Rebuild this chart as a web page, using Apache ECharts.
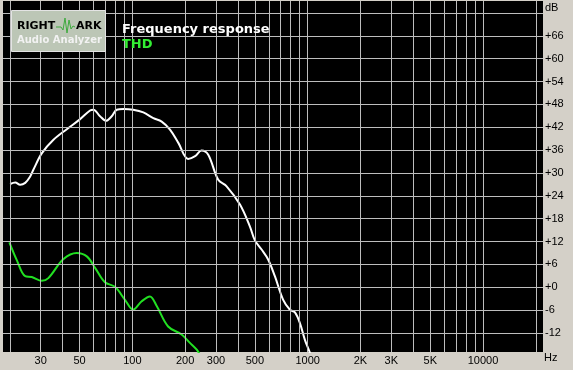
<!DOCTYPE html>
<html>
<head>
<meta charset="utf-8">
<script src="https://cdn.jsdelivr.net/npm/echarts@6/dist/echarts.min.js"></script>
<style>
html,body{margin:0;padding:0;background:#D4D0C8;}
#chart{width:573px;height:370px;}
</style>
</head>
<body>
<div id="chart"></div>
<script>
// Frequency response (white)
const frFreq = [20.1, 21.5, 22.9, 24.5, 26.1, 27.3, 30.5, 35.5, 42.3, 50, 57.4, 60, 65.4, 70.8, 76.3, 81.5, 89, 101, 115.6, 131.8, 147, 164, 183, 208, 228, 248, 271, 309, 345, 411, 468, 500, 546, 595, 650, 725, 792, 846, 903, 964, 1030, 1100];
const frDb   = [27.1, 27.5, 26.9, 27.4, 29.0, 30.9, 35.2, 38.7, 41.5, 44.0, 46.4, 46.6, 44.9, 43.7, 44.9, 46.6, 46.8, 46.6, 45.9, 44.4, 43.5, 41.4, 37.9, 33.7, 34.4, 35.9, 34.8, 28.2, 26.5, 21.7, 16.0, 12.3, 9.9, 7.3, 2.9, -3.3, -5.9, -6.6, -9.4, -13.8, -17.2, -21];
// THD (green)
const thdFreq = [19.9, 21.9, 24.5, 26.7, 30.5, 33.2, 40.5, 48.2, 55, 61.3, 69.8, 79.6, 90.8, 101, 113, 126, 138, 160, 191, 213, 233, 260];
const thdDb   = [11.8, 7.2, 2.9, 2.7, 1.7, 2.4, 7.4, 9.0, 8.1, 5.1, 1.3, 0.1, -3.3, -5.9, -3.7, -2.4, -5.0, -10.3, -12.4, -14.6, -16.4, -20];

// Grid / ticks
const freqGrid = [20,30,40,50,60,70,80,90,100,200,300,400,500,600,700,800,900,1000,2000,3000,4000,5000,6000,7000,8000,9000,10000,20000];
const dbGrid = [-12,-6,0,6,12,18,24,30,36,42,48,54,60,66,72];
const xLabelValues = [30,50,100,200,300,500,1000,2000,3000,5000,10000];
const xLabelTexts  = ['30','50','100','200','300','500','1000','2K','3K','5K','10000'];
const yLabelValues = [-12,-6,0,6,12,18,24,30,36,42,48,54,60,66];

const chart = echarts.init(document.getElementById('chart'), null, {renderer:'canvas'});
const gridColor = '#BDBDBD';
const FONT = '"Liberation Sans", Arial, sans-serif';

const markLineData = freqGrid.map(f => ({xAxis: f})).concat(dbGrid.map(v => ({yAxis: v})));

chart.setOption({
  animation: false,
  backgroundColor: '#D4D0C8',
  grid: {left: 3, right: 30, top: 1, bottom: 18, show: true, backgroundColor: '#000000', borderWidth: 0},
  xAxis: {
    type: 'log', logBase: 10, min: 18.3, max: 21980,
    axisLine: {show: false}, axisTick: {show: false}, splitLine: {show: false}, minorSplitLine: {show: false},
    axisLabel: {
      customValues: xLabelValues,
      formatter: v => { const i = xLabelValues.findIndex(x => Math.abs(x - v) / x < 1e-6); return i >= 0 ? xLabelTexts[i] : ''; },
      color: '#000', fontFamily: FONT, fontSize: 11, margin: 3, showMinLabel: true, showMaxLabel: true
    }
  },
  yAxis: {
    type: 'value', position: 'right', min: -17, max: 75.15,
    axisLine: {show: false}, axisTick: {show: false}, splitLine: {show: false},
    axisLabel: {
      customValues: yLabelValues,
      formatter: v => (v >= 0 ? '+' + v : '' + v),
      color: '#000', fontFamily: FONT, fontSize: 11, margin: 2
    }
  },
  series: [
    {
      type: 'line', name: 'grid', data: [], silent: true,
      markLine: {silent: true, symbol: ['none','none'], label: {show: false}, animation: false,
        lineStyle: {color: gridColor, width: 1, type: 'solid'}, emphasis: {disabled: true}, data: markLineData}
    },
    {
      type: 'line', name: 'THD', data: thdFreq.map((f, i) => [f, thdDb[i]]),
      showSymbol: false, smooth: 0.35, lineStyle: {color: '#22E022', width: 2}, itemStyle: {color: '#22E022'}, clip: true, z: 3
    },
    {
      type: 'line', name: 'Frequency response', data: frFreq.map((f, i) => [f, frDb[i]]),
      showSymbol: false, smooth: 0.35, lineStyle: {color: '#FFFFFF', width: 2}, itemStyle: {color: '#FFFFFF'}, clip: true, z: 4
    }
  ],
  graphic: [
    {type: 'rect', shape: {x: 11.5, y: 10.5, width: 94, height: 41}, style: {fill: '#BCC6B6', stroke: '#E4E4E4', lineWidth: 1}, z: 100},
    {type: 'text', style: {x: 17, y: 26, text: 'RIGHT', fill: '#000', font: 'bold 11px "DejaVu Sans", sans-serif', verticalAlign: 'middle'}, z: 101},
    {type: 'polyline', shape: {points: [[56,27],[61,27],[63,30],[65,18],[67,33],[69,20],[71,29],[73,26],[75,27]]}, style: {stroke: '#3DAA3D', lineWidth: 1, fill: null}, z: 101},
    {type: 'text', style: {x: 76, y: 26, text: 'ARK', fill: '#000', font: 'bold 11px "DejaVu Sans", sans-serif', verticalAlign: 'middle'}, z: 101},
    {type: 'text', style: {x: 17, y: 40.5, text: 'Audio Analyzer', fill: '#F2F2F2', font: 'bold 10px "DejaVu Sans", sans-serif', verticalAlign: 'middle'}, z: 101},
    {type: 'text', style: {x: 122, y: 29.5, text: 'Frequency response', fill: '#FFFFFF', font: 'bold 13px "DejaVu Sans", sans-serif', verticalAlign: 'middle'}, z: 101},
    {type: 'text', style: {x: 122, y: 45, text: 'THD', fill: '#33EE33', font: 'bold 13px "DejaVu Sans", sans-serif', verticalAlign: 'middle'}, z: 101},
    {type: 'text', style: {x: 545, y: 8, text: 'dB', fill: '#000', font: '11px "Liberation Sans", Arial, sans-serif', verticalAlign: 'middle'}, z: 101},
    {type: 'text', style: {x: 544, y: 358, text: 'Hz', fill: '#000', font: '11px "Liberation Sans", Arial, sans-serif', verticalAlign: 'middle'}, z: 101}
  ]
});
</script>
</body>
</html>
